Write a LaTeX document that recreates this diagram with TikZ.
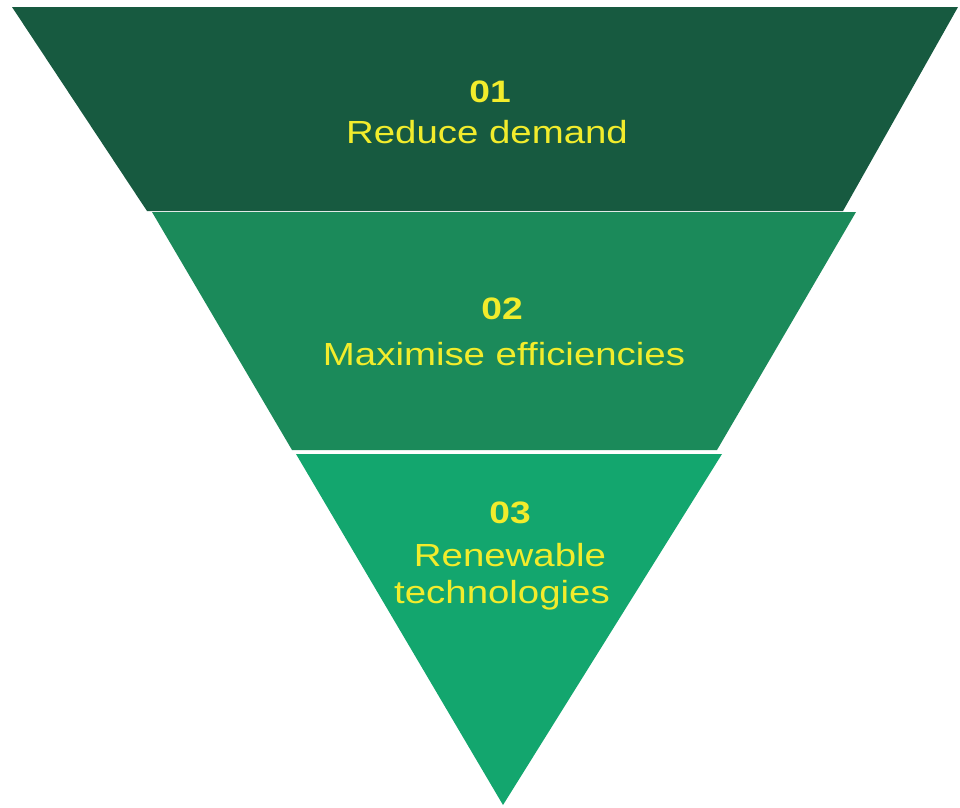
\documentclass[tikz,border=0pt]{standalone}
\usepackage{fontspec}
\setmainfont{Liberation Sans}[FakeStretch=1.2]
\usepackage{xcolor}
\definecolor{bandOne}{HTML}{175A40}
\definecolor{bandTwo}{HTML}{1B8A5A}
\definecolor{bandThree}{HTML}{13A66E}
\definecolor{labelYellow}{HTML}{F2EC2C}

\begin{document}
\begin{tikzpicture}[x=1pt, y=-1pt] % one unit is one pixel of the reference
        \tikzset{
            steplabel/.style={anchor=base, text=labelYellow, font=\fontsize{32}{38}\selectfont, inner sep=0pt},
            stepnum/.style={steplabel, font=\fontsize{31}{38}\selectfont\bfseries}
        }
        \useasboundingbox (0,0) rectangle (960,807);

        % Define Coordinates
        \coordinate (TopLeft) at (12,7);
        \coordinate (TopRight) at (958,7);
        \coordinate (Apex) at (503,805);

        % Draw Bands
        \fill[bandOne] (TopLeft) -- (TopRight) -- (843,211) -- (147,211) -- cycle;
        \fill[bandTwo] (152,212) -- (856,212) -- (717,450) -- (292,450) -- cycle;
        \fill[bandThree] (296,454) -- (722,454) -- (Apex) -- cycle;

        % Labels
        \node[stepnum] (num1) at (490,102) {01};
        \node[steplabel] (lab1) at (487,143) {Reduce demand};

        \node[stepnum] (num2) at (502,319) {02};
        \node[steplabel] (lab2) at (504,365) {Maximise efficiencies};

        \node[stepnum] (num3) at (510,523) {03};
        \node[steplabel] (lab3a) at (510,566) {Renewable};
        \node[steplabel] (lab3b) at (502,603) {technologies};

    \end{tikzpicture}
\end{document}
